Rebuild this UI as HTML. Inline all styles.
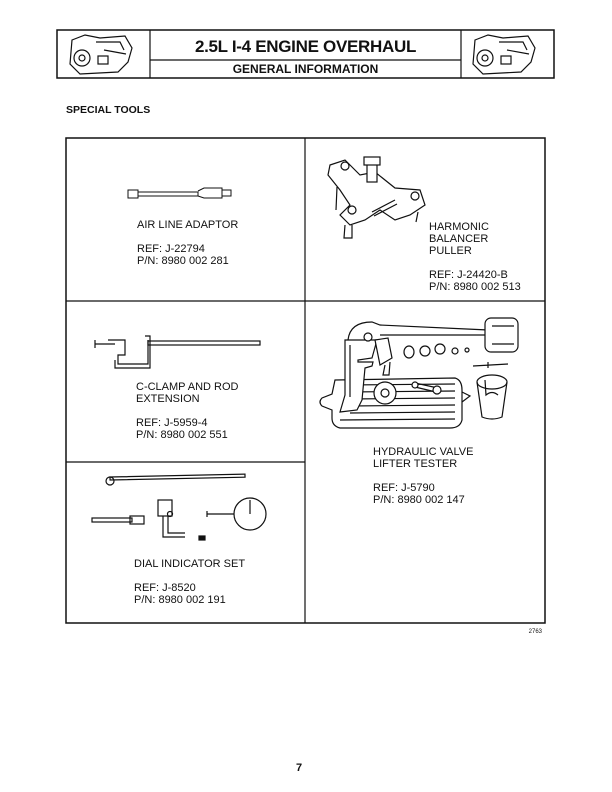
<!DOCTYPE html>
<html><head><style>
body{margin:0;background:#fff;}
.p{position:relative;width:612px;height:792px;background:#fff;font-family:"Liberation Sans",Arial,sans-serif;color:#111;}
.t{position:absolute;font-size:11px;line-height:12px;white-space:nowrap;}
</style></head><body><div class="p">
<svg width="612" height="792" style="position:absolute;left:0;top:0" fill="none" stroke="#111">
<rect x="57" y="30" width="497" height="48" stroke-width="1.5"/>
<line x1="150" y1="30" x2="150" y2="78" stroke-width="1.2"/>
<line x1="461" y1="30" x2="461" y2="78" stroke-width="1.2"/>
<line x1="150" y1="60" x2="461" y2="60" stroke-width="1.2"/>
<g id="eng" stroke-width="1.2">
<path d="M72 40 L85 35 L100 38 L125 36 L132 48 L128 62 L118 72 L80 74 L70 64 Z"/>
<circle cx="82" cy="58" r="8"/><circle cx="82" cy="58" r="3"/>
<rect x="98" y="56" width="10" height="8"/><path d="M96 42 L120 42 L124 50 M104 50 L126 54"/>
</g>
<use href="#eng" x="403"/>
<rect x="66" y="138" width="479" height="485" stroke-width="1.5"/>
<line x1="305" y1="138" x2="305" y2="623" stroke-width="1.2"/>
<line x1="66" y1="301" x2="545" y2="301" stroke-width="1.2"/>
<line x1="66" y1="462" x2="305" y2="462" stroke-width="1.2"/>
<g stroke-width="1">
<rect x="128" y="190" width="10" height="8"/><rect x="138" y="192" width="60" height="4"/>
<path d="M198 191 L204 188 L222 188 L222 198 L204 198 L198 196"/><rect x="222" y="190" width="9" height="6"/>
</g>
<g stroke-width="1.2">
<path d="M330 165 L345 160 L360 175 L375 172 L395 188 L420 190 L425 205 L410 215 L395 220 L380 210 L365 220 L350 225 L340 215 L350 205 L340 190 L328 175 Z"/>
<rect x="367" y="160" width="10" height="22" fill="#fff"/><rect x="364" y="157" width="16" height="8" fill="#fff"/>
<circle cx="345" cy="166" r="4"/><circle cx="352" cy="210" r="4"/><circle cx="415" cy="196" r="4"/>
<path d="M337 187 L336 210 M418 212 L416 222 M345 225 L344 238 L352 238 L352 225"/>
<path d="M372 212 L395 200 M374 216 L397 204"/>
</g>
<g stroke-width="1.2">
<path d="M95 340 L95 348 M95 344 L115 344 M108 340 L125 340 L125 355 L118 355 L118 364 L148 364 L148 340"/>
<path d="M115 360 L115 368 L150 368 L150 336 L145 336"/>
<rect x="148" y="341" width="112" height="4"/>
</g>
<g stroke-width="1.2">
<rect x="110" y="477" width="135" height="3" transform="rotate(-1.2 110 477)"/>
<circle cx="110" cy="481" r="4"/>
<rect x="92" y="518" width="40" height="4"/><rect x="130" y="516" width="14" height="8"/>
<rect x="158" y="500" width="14" height="16"/><path d="M163 516 L163 537 L185 537 M168 516 L168 533 L185 533"/>
<circle cx="170" cy="514" r="2.5"/>
<rect x="199" y="536" width="6" height="4" fill="#111"/>
<circle cx="250" cy="514" r="16"/><path d="M250 500 L250 514 M207 514 L234 514 M207 511 L207 517"/>
</g>
<!-- hydraulic tester -->
<g stroke-width="1.2">
<path d="M335 380 L455 378 Q462 380 462 390 L462 420 Q460 428 450 428 L340 428 Q332 426 332 418 L332 410 L322 406 Q318 402 322 398 L332 394 Z" fill="#fff"/>
<path d="M462 392 L470 396 L462 402"/>
<path d="M345 385 L455 384 M345 392 L455 391 M350 399 L455 398 M350 406 L455 405 M350 413 L455 412 M340 420 L455 419"/>
<circle cx="385" cy="393" r="11" fill="#fff"/><circle cx="385" cy="393" r="4"/>
<path d="M415 383 L438 388 M415 387 L436 392"/><circle cx="415" cy="385" r="3" fill="#fff"/><circle cx="437" cy="390" r="4" fill="#fff"/>
<path d="M345 395 L345 340 L377 340 L372 358 L358 360 L358 362 L373 362 L372 366 L365 368 L362 400 L357 410 L340 412 Z" fill="#fff"/>
<path d="M350 397 L350 345"/>
<path d="M348 340 Q350 322 372 322 L380 325 L488 330 L488 335 L380 335"/>
<circle cx="368" cy="337" r="4" fill="#fff"/>
<path d="M375 340 L388 338 L392 358 L380 365 Z" fill="#fff"/>
<path d="M385 365 L383 375 L389 375 L390 362"/>
<rect x="485" y="318" width="33" height="34" rx="6" fill="#fff"/>
<path d="M492 326 L514 326 M492 344 L514 344"/>
<ellipse cx="409" cy="352" rx="5" ry="6"/><ellipse cx="425" cy="351" rx="5" ry="5"/><ellipse cx="440" cy="349" rx="5" ry="5"/><circle cx="455" cy="351" r="3"/><circle cx="467" cy="350" r="2"/>
<path d="M473 366 L508 364 M488 362 L488 368"/>
<ellipse cx="492" cy="382" rx="15" ry="7"/>
<path d="M477 382 L482 417 Q492 421 502 417 L507 382"/>
<path d="M485 380 L486 395 Q492 390 498 395"/>
</g>
<text x="542" y="633" font-size="6" fill="#111" stroke="none" font-family="Liberation Sans" text-anchor="end">2763</text>
</svg>
<div class="t" style="left:150px;top:37px;width:311px;text-align:center;font-size:17px;font-weight:bold;line-height:20px;letter-spacing:-0.3px">2.5L I-4 ENGINE OVERHAUL</div>
<div class="t" style="left:150px;top:62px;width:311px;text-align:center;font-size:12px;font-weight:bold;line-height:14px">GENERAL INFORMATION</div>
<div class="t" style="left:66px;top:104px;font-weight:bold;font-size:10.5px">SPECIAL TOOLS</div>
<div class="t" style="left:137px;top:219px">AIR LINE ADAPTOR<br><br>REF: J-22794<br>P/N: 8980 002 281</div>
<div class="t" style="left:429px;top:221px">HARMONIC<br>BALANCER<br>PULLER<br><br>REF: J-24420-B<br>P/N: 8980 002 513</div>
<div class="t" style="left:136px;top:381px">C-CLAMP AND ROD<br>EXTENSION<br><br>REF: J-5959-4<br>P/N: 8980 002 551</div>
<div class="t" style="left:373px;top:446px">HYDRAULIC VALVE<br>LIFTER TESTER<br><br>REF: J-5790<br>P/N: 8980 002 147</div>
<div class="t" style="left:134px;top:558px">DIAL INDICATOR SET<br><br>REF: J-8520<br>P/N: 8980 002 191</div>
<div class="t" style="left:296px;top:762px;font-weight:bold;font-size:11px">7</div>
</div></body></html>
